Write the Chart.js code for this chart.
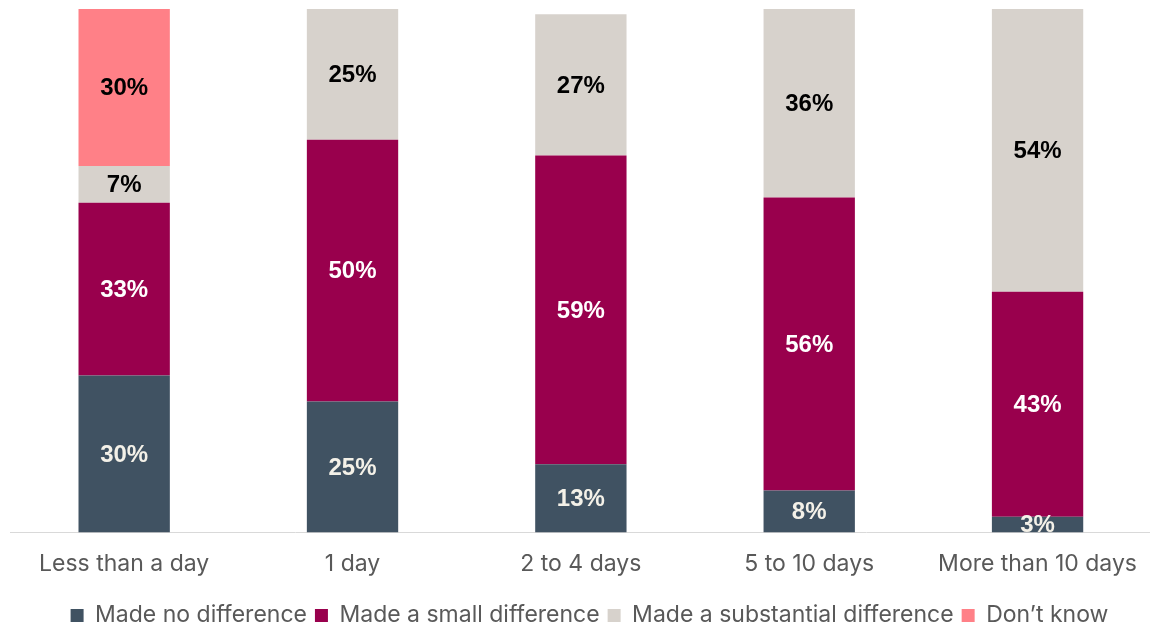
<!DOCTYPE html>
<html>
<head>
<meta charset="utf-8">
<script src="https://cdn.jsdelivr.net/npm/chart.js@4.4.1/dist/chart.umd.min.js"></script>
<style>
  html, body { margin: 0; padding: 0; background: #ffffff; overflow: hidden; }
  #wrap { position: relative; width: 1155px; height: 637px; }
</style>
</head>
<body>
<div id="wrap"><canvas id="chart"></canvas></div>
<script>
// Time categories along the x axis
const categories = ['Less than a day', '1 day', '2 to 4 days', '5 to 10 days', 'More than 10 days'];

// Share of respondents (%) per answer
const noDifference = [30, 25, 13, 8, 3];
const smallDifference = [33, 50, 59, 56, 43];
const substantialDifference = [7, 25, 27, 36, 54];
const dontKnow = [30, 0, 0, 0, 0];

const seriesNames = ['Made no difference', 'Made a small difference', 'Made a substantial difference', 'Don\u2019t know'];
const seriesColors = ['#405262', '#99004D', '#D7D2CC', '#FF8087'];
const labelColors = ['#F4F1E8', '#FFFFFF', '#000000', '#000000'];

// Writes each segment's value in the middle of its bar piece
const segmentLabels = {
  id: 'segmentLabels',
  afterDatasetsDraw(chart) {
    const ctx = chart.ctx;
    const area = chart.chartArea;
    ctx.save();
    ctx.beginPath();
    ctx.rect(area.left, area.top, area.right - area.left, area.bottom - area.top);
    ctx.clip();
    ctx.font = 'bold 24px "Liberation Sans", Arial, sans-serif';
    ctx.textAlign = 'center';
    ctx.textBaseline = 'middle';
    chart.data.datasets.forEach((ds, di) => {
      const meta = chart.getDatasetMeta(di);
      meta.data.forEach((bar, i) => {
        const v = ds.data[i];
        if (!v) return;
        ctx.fillStyle = labelColors[di];
        ctx.fillText(v + '%', bar.x, (bar.y + bar.base) / 2 + 1);
      });
    });
    ctx.restore();
  }
};

// Nudges the legend row a little to the right
const legendShift = {
  id: 'legendShift',
  afterLayout(chart) {
    if (chart.legend) {
      chart.legend.left += 7;
      chart.legend.right += 7;
    }
  }
};

const datasets = [noDifference, smallDifference, substantialDifference, dontKnow].map((values, k) => ({
  label: seriesNames[k],
  data: values,
  backgroundColor: seriesColors[k],
  borderWidth: 0,
  categoryPercentage: 0.4,
  barPercentage: 1.0
}));

new Chart(document.getElementById('chart'), {
  type: 'bar',
  data: { labels: categories, datasets },
  plugins: [segmentLabels, legendShift],
  options: {
    responsive: true,
    maintainAspectRatio: false,
    animation: false,
    layout: { padding: { left: 10, right: 0, top: 9, bottom: 0 } },
    scales: {
      x: {
        stacked: true,
        grid: { display: false, drawTicks: false },
        border: { display: true, color: '#D9D9D9', width: 1 },
        ticks: {
          color: '#595959',
          padding: 18,
          font: { family: 'Inter, "Noto Sans", sans-serif', size: 23 }
        }
      },
      y: {
        stacked: true,
        display: false,
        min: 0,
        max: 100
      }
    },
    plugins: {
      tooltip: { enabled: false },
      legend: {
        position: 'bottom',
        labels: {
          color: '#595959',
          boxWidth: 13,
          boxHeight: 13,
          padding: 8,
          font: { family: 'Inter, "Noto Sans", sans-serif', size: 23 }
        }
      }
    }
  }
});
</script>
</body>
</html>
